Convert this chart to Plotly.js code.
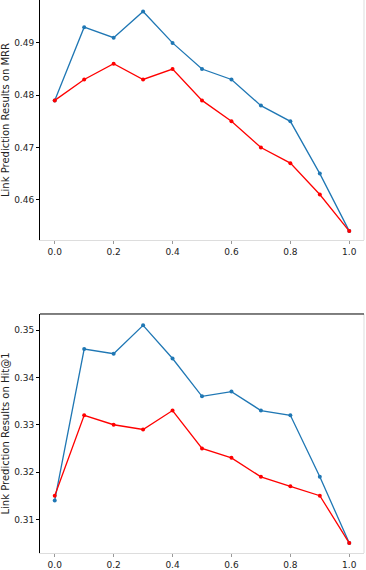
<!DOCTYPE html>
<html>
<head>
<meta charset="utf-8">
<script src="https://cdn.plot.ly/plotly-3.0.1.min.js"></script>
<style>
  html, body { margin: 0; padding: 0; background: #fff; }
  #chart { width: 366px; height: 570px; }
</style>
</head>
<body>
<div id="chart"></div>
<script>
// sampling ratio on the x axis
var ratios = [0.0, 0.1, 0.2, 0.3, 0.4, 0.5, 0.6, 0.7, 0.8, 0.9, 1.0];

// MRR (top panel)
var mrrBlue = [0.479, 0.493, 0.491, 0.496, 0.490, 0.485, 0.483, 0.478, 0.475, 0.465, 0.454];
var mrrRed  = [0.479, 0.483, 0.486, 0.483, 0.485, 0.479, 0.475, 0.470, 0.467, 0.461, 0.454];

// Hit@1 (bottom panel)
var hitBlue = [0.314, 0.346, 0.345, 0.351, 0.344, 0.336, 0.337, 0.333, 0.332, 0.319, 0.305];
var hitRed  = [0.315, 0.332, 0.330, 0.329, 0.333, 0.325, 0.323, 0.319, 0.317, 0.315, 0.305];

var xTicks = [0.0, 0.2, 0.4, 0.6, 0.8, 1.0];
var xTickText = ['0.0', '0.2', '0.4', '0.6', '0.8', '1.0'];
var mrrTicks = [0.46, 0.47, 0.48, 0.49];
var hitTicks = [0.31, 0.32, 0.33, 0.34, 0.35];

var blue = '#1f77b4';
var red = '#ff0000';
var tickFont = {family: 'DejaVu Sans', size: 9, color: '#222'};

function trace(y, color, xa, ya) {
  return {
    x: ratios, y: y, xaxis: xa, yaxis: ya,
    mode: 'lines+markers', type: 'scatter',
    line: {color: color, width: 1.3},
    marker: {color: color, size: 4},
    showlegend: false, hoverinfo: 'skip'
  };
}

var data = [
  trace(mrrBlue, blue, 'x', 'y'),
  trace(mrrRed, red, 'x', 'y'),
  trace(hitBlue, blue, 'x2', 'y2'),
  trace(hitRed, red, 'x2', 'y2')
];

function xAxis(anchor) {
  return {
    domain: [0, 1], anchor: anchor, range: [-0.05, 1.05],
    tickvals: xTicks, ticktext: xTickText, tickfont: tickFont,
    ticks: 'outside', ticklen: 3, tickcolor: '#999',
    showline: true, linecolor: '#ddd', linewidth: 1,
    showgrid: false, zeroline: false, automargin: false
  };
}

function yAxis(domain, anchor, range, ticks, title) {
  return {
    domain: domain, anchor: anchor, range: range,
    tickvals: ticks, ticktext: ticks.map(function(v) { return v.toFixed(2); }),
    tickfont: tickFont,
    ticks: 'outside', ticklen: 3, tickcolor: '#000',
    showline: true, linecolor: '#000', linewidth: 1,
    showgrid: false, zeroline: false, automargin: false,
    title: {text: title, font: {family: 'DejaVu Sans', size: 10, color: '#222'}, standoff: 4}
  };
}

var layout = {
  width: 366, height: 570,
  margin: {l: 40, r: 2, t: 0, b: 17},
  paper_bgcolor: '#fff', plot_bgcolor: '#fff',
  xaxis: xAxis('y'),
  yaxis: yAxis([0.566, 1], 'x', [0.4523, 0.4982], mrrTicks, 'Link Prediction Results on MRR'),
  xaxis2: xAxis('y2'),
  yaxis2: yAxis([0, 0.4322], 'x2', [0.3029, 0.3534], hitTicks, 'Link Prediction Results on Hit@1'),
  shapes: [
    {type: 'line', xref: 'x domain', yref: 'y domain', x0: 1, x1: 1, y0: 0, y1: 1, line: {color: '#ddd', width: 1}},
    {type: 'line', xref: 'x2 domain', yref: 'y2 domain', x0: 1, x1: 1, y0: 0, y1: 1, line: {color: '#ddd', width: 1}},
    {type: 'line', xref: 'x2 domain', yref: 'y2 domain', x0: 0, x1: 1, y0: 1, y1: 1, line: {color: '#000', width: 1}}
  ]
};

Plotly.newPlot('chart', data, layout, {staticPlot: true});
</script>
</body>
</html>
